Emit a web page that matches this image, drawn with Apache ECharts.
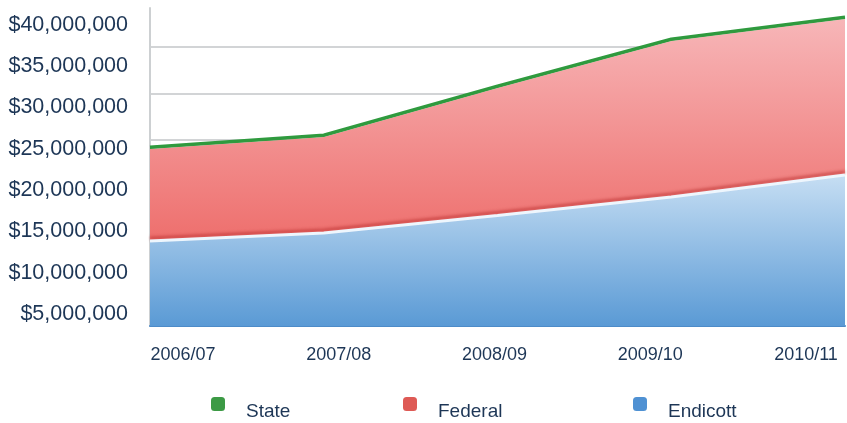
<!DOCTYPE html>
<html>
<head>
<meta charset="utf-8">
<script src="https://cdn.jsdelivr.net/npm/echarts@6/dist/echarts.min.js"></script>
<style>
  html, body { margin: 0; padding: 0; background: #fff; }
  #chart { width: 847px; height: 423px; }
</style>
</head>
<body>
<div id="chart"></div>
<script>
// ---------------- data ----------------
const years = ['2006/07', '2007/08', '2008/09', '2009/10', '2010/11']
const endicott = [13840000, 14810000, 16930000, 19170000, 21840000]
const federal = [11140000, 11620000, 15430000, 18880000, 18880000]
const state = [250000, 250000, 250000, 250000, 250000]
const seriesNames = ['State', 'Federal', 'Endicott']
const yTicks = [5000000, 40000000, 5000000] // min, max, step of printed labels

// ---------------- layout helpers ----------------
// printed labels sit from y=25 ($40M) to y=314 ($5M); plot runs y=8..326
const labTop = 25, labBottom = 314, plotTop = 8, plotBottom = 326
const perPx = (yTicks[1] - yTicks[0]) / (labBottom - labTop)
const dataMin = yTicks[0] - (plotBottom - labBottom) * perPx
const dataMax = yTicks[1] + (labTop - plotTop) * perPx

const textColor = '#1d3656'
const font = 'Liberation Sans, Arial, sans-serif'

function money(v) {
  return '$' + v.toString().replace(/\B(?=(\d{3})+(?!\d))/g, ',')
}

function grad(top, bottom) {
  return new echarts.graphic.LinearGradient(0, 0, 0, 1, [
    { offset: 0, color: top },
    { offset: 1, color: bottom }
  ])
}

const chart = echarts.init(document.getElementById('chart'), null, { renderer: 'canvas' })

const option = {
  backgroundColor: '#fff',
  animation: false,
  grid: [
    // plot area
    { left: 150, right: 2, top: plotTop, bottom: 423 - plotBottom },
    // label frame
    { left: 183, right: 41, top: labTop, bottom: 423 - labBottom }
  ],
  xAxis: [
    {
      type: 'category', gridIndex: 0, data: years, boundaryGap: false,
      axisLine: { show: true, lineStyle: { color: '#4d8bc8', width: 2 } },
      axisTick: { show: false }, axisLabel: { show: false }, splitLine: { show: false }
    },
    {
      type: 'category', gridIndex: 1, data: years, boundaryGap: false,
      axisLine: { show: false }, axisTick: { show: false }, splitLine: { show: false },
      axisLabel: { color: textColor, fontSize: 18, fontFamily: font, margin: 32, interval: 0 }
    }
  ],
  yAxis: [
    {
      type: 'value', gridIndex: 0, min: dataMin, max: dataMax,
      axisLine: { show: true, lineStyle: { color: '#cdd0d2', width: 2 } },
      axisTick: { show: false }, axisLabel: { show: false }, splitLine: { show: false }
    },
    {
      // pale guide lines behind the areas
      type: 'value', gridIndex: 0, position: 'right', min: 0, max: 318, interval: 46.5,
      axisLine: { show: false }, axisTick: { show: false }, axisLabel: { show: false },
      splitLine: { show: true, showMinLine: false, showMaxLine: false, lineStyle: { color: '#d2d4d6', width: 2 } }
    },
    {
      type: 'value', gridIndex: 1, min: yTicks[0], max: yTicks[1], interval: yTicks[2],
      axisLine: { show: false }, axisTick: { show: false }, splitLine: { show: false },
      axisLabel: { color: textColor, fontSize: 21.5, fontFamily: font, margin: 55, formatter: money }
    }
  ],
  legend: [
    { data: [seriesNames[0]], left: 206, top: 392 },
    { data: [seriesNames[1]], left: 398, top: 392 },
    { data: [seriesNames[2]], left: 628, top: 392 }
  ].map(l => Object.assign(l, {
    icon: 'roundRect', itemWidth: 14, itemHeight: 14,
    formatter: name => '{t|' + name + '}',
    textStyle: {
      color: textColor, fontSize: 19, fontFamily: font,
      rich: { t: { color: textColor, fontSize: 19, fontFamily: font, padding: [16, 0, 0, 16] } }
    }
  })),
  series: [
    {
      name: 'Endicott', type: 'line', stack: 'total', data: endicott,
      xAxisIndex: 0, yAxisIndex: 0, symbol: 'none',
      itemStyle: { color: '#4f91d3' },
      lineStyle: { color: '#eef6fd', width: 3, shadowColor: 'rgba(185,45,45,0.6)', shadowBlur: 3, shadowOffsetY: -3 },
      areaStyle: { color: grad('#c6def3', '#5a9ad5'), opacity: 1 },
      z: 3
    },
    {
      name: 'Federal', type: 'line', stack: 'total', data: federal,
      xAxisIndex: 0, yAxisIndex: 0, symbol: 'none',
      itemStyle: { color: '#de5a55' },
      lineStyle: { width: 0 },
      areaStyle: { color: grad('#f7b6b8', '#ee6f6d'), opacity: 1 },
      z: 2
    },
    {
      name: 'State', type: 'line', stack: 'total', data: state,
      xAxisIndex: 0, yAxisIndex: 0, symbol: 'none',
      itemStyle: { color: '#3c9a45' },
      lineStyle: { color: '#2f9a3e', width: 3 },
      areaStyle: { color: '#3c9a45', opacity: 1 },
      z: 4
    }
  ]
}

chart.setOption(option)
</script>
</body>
</html>
